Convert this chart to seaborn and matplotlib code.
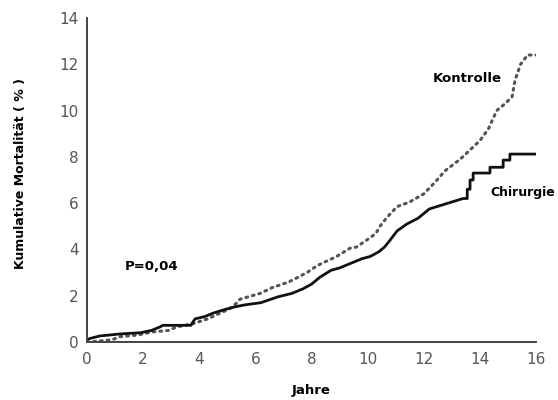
import matplotlib
matplotlib.use("Agg")
import matplotlib.pyplot as plt
import seaborn as sns
import pandas as pd

# Kumulative Mortalität (%) über die Jahre
chir_jahre = [0.0, 0.1, 0.45, 1.2, 1.9, 2.3, 2.6, 2.7, 3.7, 3.85, 4.2, 4.5, 4.9, 5.2, 5.6,
              6.2, 6.8, 7.3, 7.7, 8.0, 8.3, 8.7, 9.0, 9.4, 9.8, 10.1, 10.4, 10.6, 10.8,
              11.05, 11.4, 11.8, 12.2, 12.6, 13.0, 13.4, 13.55, 13.55, 13.65, 13.65,
              13.76, 13.76, 14.36, 14.36, 14.83, 14.83, 15.07, 15.07, 16.0]
chir_wert = [0.1, 0.15, 0.26, 0.35, 0.4, 0.5, 0.65, 0.72, 0.72, 1.0, 1.1, 1.25, 1.4, 1.5, 1.6,
             1.7, 1.95, 2.1, 2.3, 2.5, 2.8, 3.1, 3.2, 3.4, 3.6, 3.7, 3.9, 4.1, 4.4,
             4.8, 5.1, 5.35, 5.75, 5.9, 6.05, 6.2, 6.2, 6.6, 6.6, 7.0,
             7.0, 7.3, 7.3, 7.55, 7.55, 7.86, 7.86, 8.12, 8.12]

kont_jahre = [0.0, 0.5, 0.9, 1.18, 1.8, 2.3, 2.9, 3.2, 3.8, 4.3, 4.75, 5.1, 5.35, 5.45, 6.17,
              6.6, 7.2, 7.84, 8.2, 8.9, 9.37, 9.6, 10.08, 10.3, 10.44, 10.7, 11.05, 11.5,
              12.0, 12.4, 12.76, 13.3, 14.0, 14.3, 14.6, 14.9, 15.15, 15.25, 15.45, 15.7, 16.0]
kont_wert = [0.0, 0.05, 0.1, 0.23, 0.3, 0.43, 0.5, 0.65, 0.8, 1.0, 1.25, 1.45, 1.7, 1.85, 2.1,
             2.35, 2.6, 3.0, 3.3, 3.7, 4.05, 4.1, 4.5, 4.7, 5.0, 5.4, 5.85, 6.05,
             6.4, 6.9, 7.4, 7.9, 8.7, 9.2, 10.0, 10.3, 10.6, 11.3, 12.0, 12.4, 12.4]

x_ticks = [0, 2, 4, 6, 8, 10, 12, 14, 16]
y_ticks = [0, 2, 4, 6, 8, 10, 12, 14]

df_chir = pd.DataFrame({"Jahre": chir_jahre, "Mortalität": chir_wert})
df_kont = pd.DataFrame({"Jahre": kont_jahre, "Mortalität": kont_wert})

sns.set_style("white")
plt.rcParams["font.family"] = ["DejaVu Sans"]

fig = plt.figure(figsize=(5.58, 4.0), dpi=100)
ax = fig.add_axes([87 / 558, 1 - 342 / 400, (536 - 87) / 558, (342 - 18) / 400])

sns.lineplot(data=df_kont, x="Jahre", y="Mortalität", ax=ax, color="#555555",
             linewidth=2.2, linestyle=(0, (0.6, 1.6)), sort=False,
             dash_capstyle="round", estimator=None)
sns.lineplot(data=df_chir, x="Jahre", y="Mortalität", ax=ax, color="#111111",
             linewidth=2.0, sort=False, estimator=None)

ax.set_xlim(0, 16)
ax.set_ylim(0, 14)
ax.set_xticks(x_ticks)
ax.set_yticks(y_ticks)
ax.margins(0)

for side in ["top", "right"]:
    ax.spines[side].set_visible(False)
for side in ["left", "bottom"]:
    ax.spines[side].set_color("#444444")
    ax.spines[side].set_linewidth(1.4)

ax.tick_params(axis="both", direction="out", length=5, width=1.2, color="#444444",
               labelsize=11, labelcolor="#555555", pad=2)
ax.tick_params(axis="y", pad=1)

ax.set_xlabel("Jahre", fontsize=9.5, fontweight="bold", color="black")
ax.xaxis.set_label_coords(0.5, -0.131)
ax.set_ylabel("Kumulative Mortalität ( % )", fontsize=9, fontweight="bold", color="black")
ax.yaxis.set_label_coords(-0.134, 0.52)

ax.text(12.33, 11.4, "Kontrolle", fontsize=9.5, fontweight="bold", va="center", ha="left",
        color="black")
ax.text(14.38, 6.44, "Chirurgie", fontsize=9, fontweight="bold", va="center", ha="left",
        color="black", clip_on=False)
ax.text(1.35, 3.25, "P=0,04", fontsize=9.5, fontweight="bold", va="center", ha="left",
        color="black")

fig.savefig("out.png", dpi=100, facecolor="white")
